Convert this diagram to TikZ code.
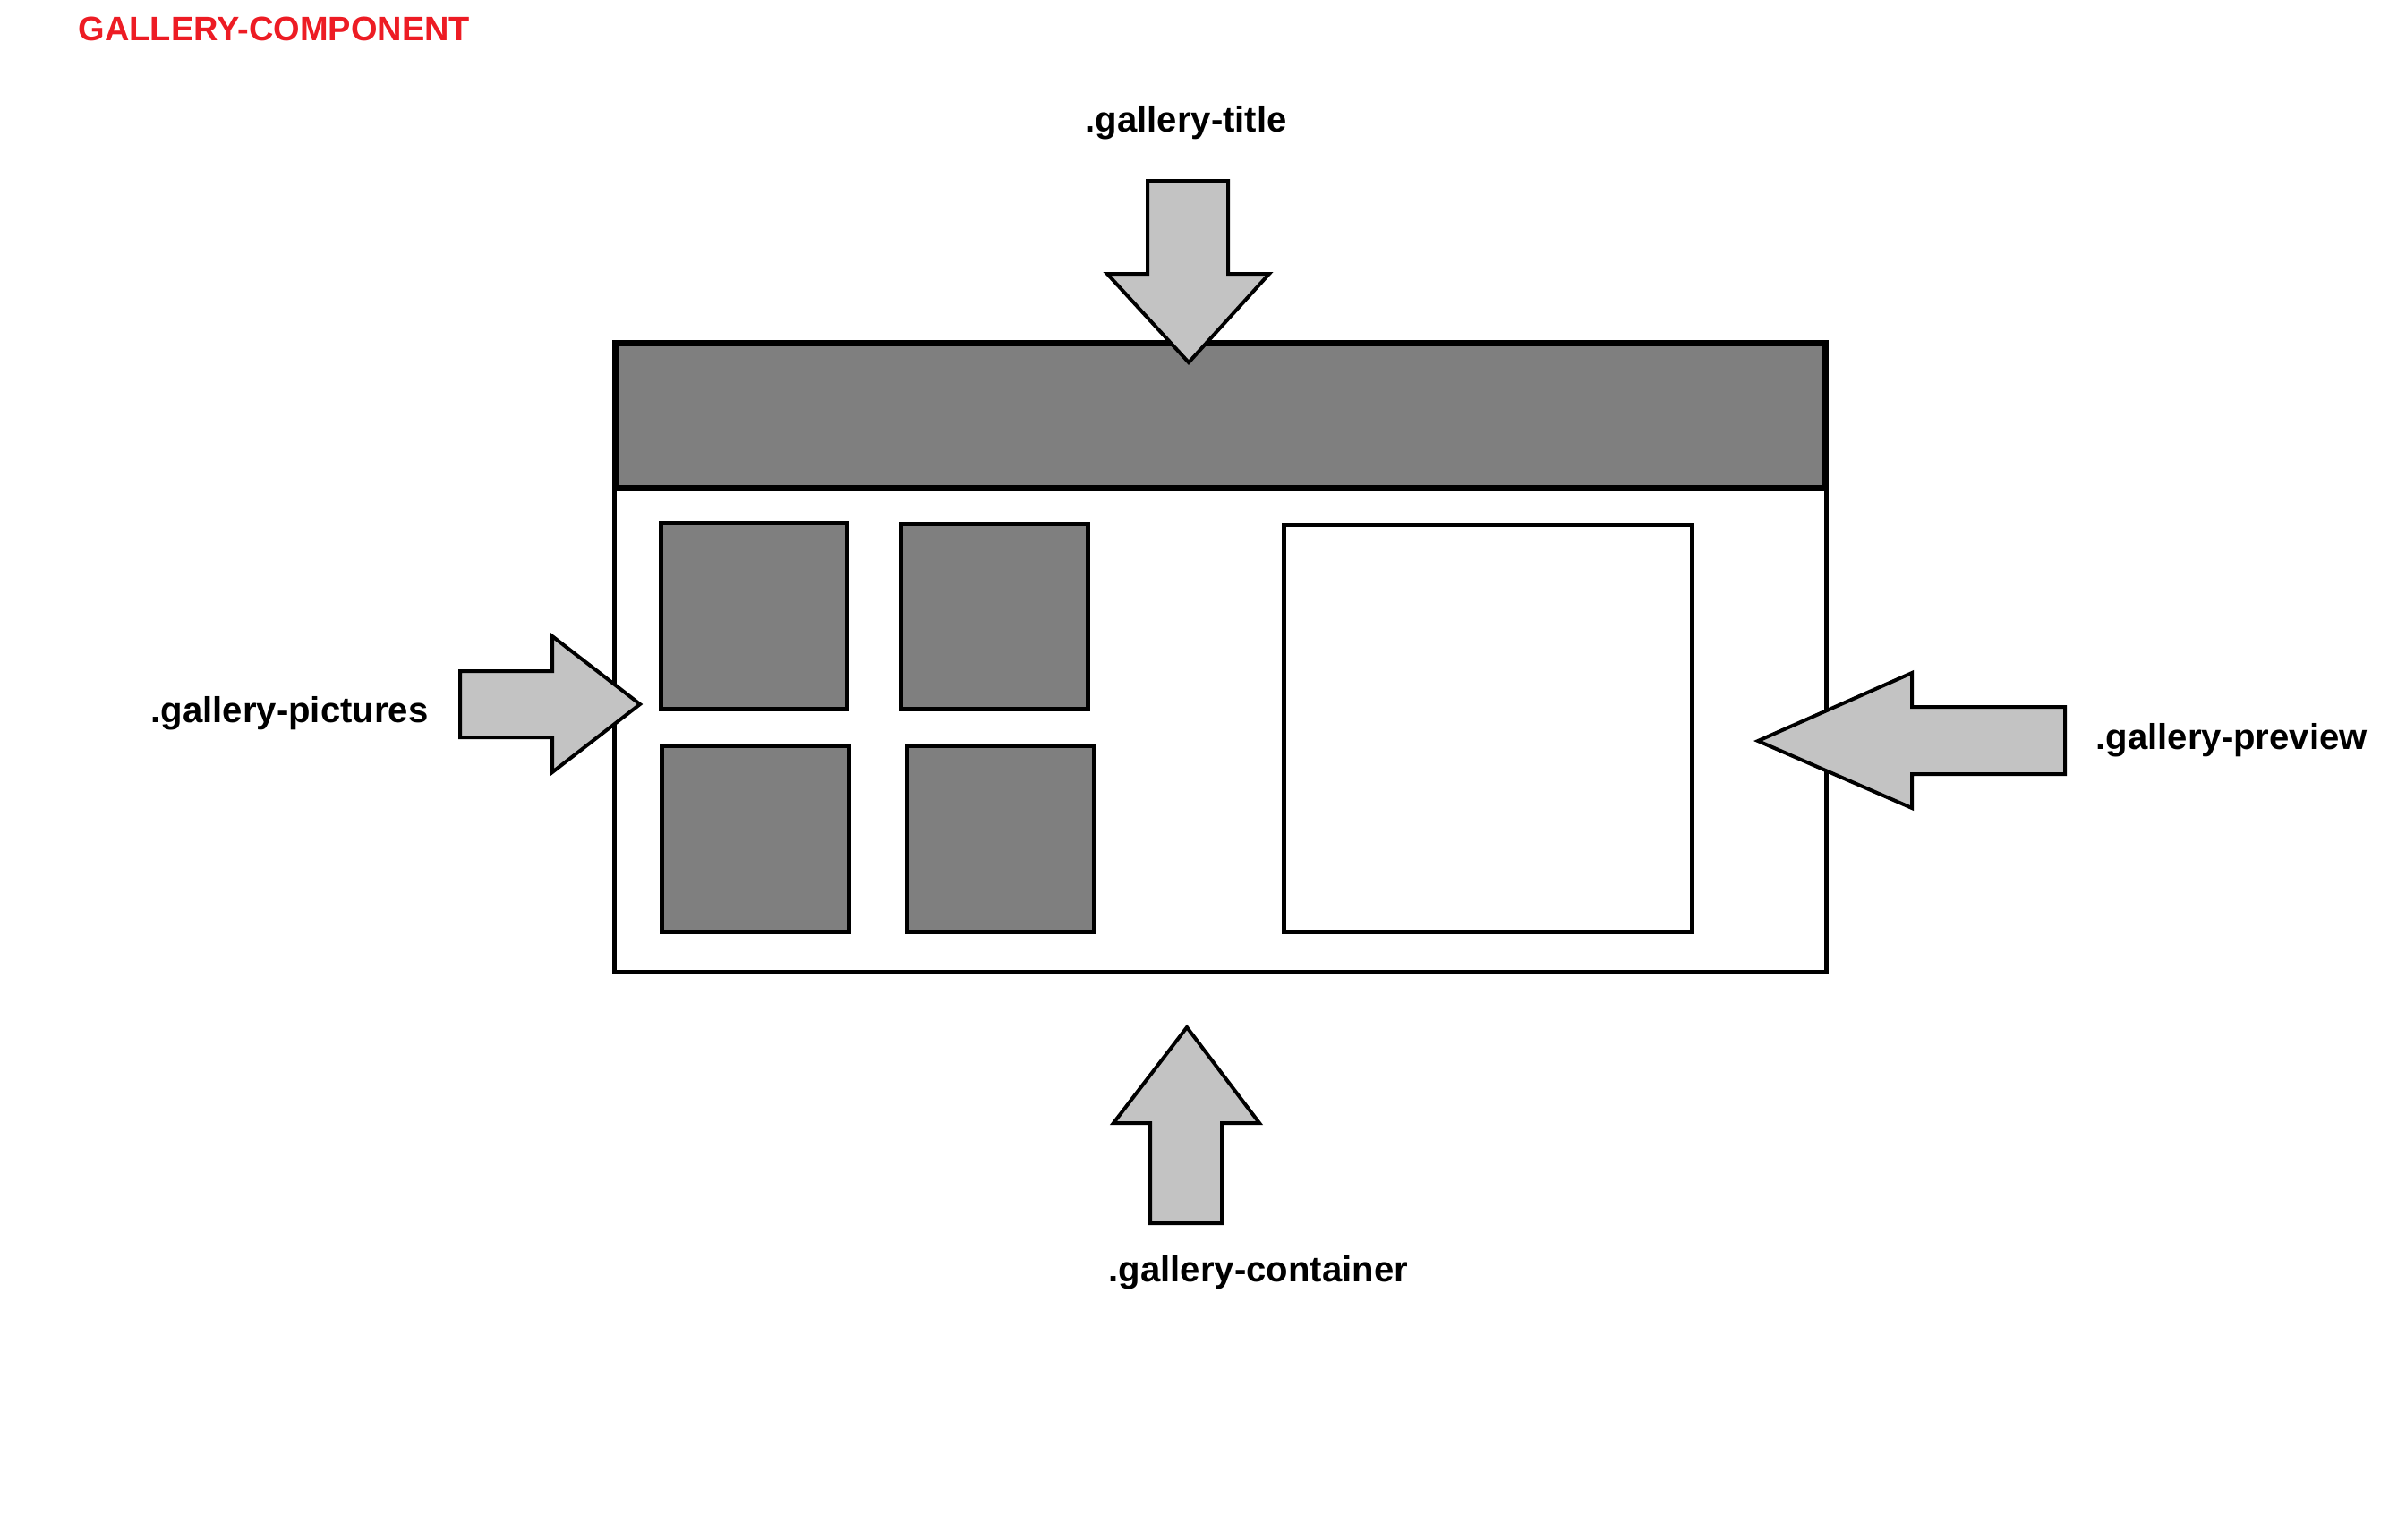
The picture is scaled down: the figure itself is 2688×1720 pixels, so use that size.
\documentclass[tikz,border=0pt]{standalone}
\usepackage{fontspec}
\setmainfont{Liberation Sans}
\definecolor{barfill}{HTML}{7F7F7F}
\definecolor{arrowfill}{HTML}{C3C3C3}
\definecolor{headred}{HTML}{ED1C24}
\begin{document}
\begin{tikzpicture}[x=0.01cm,y=-0.01cm,
  frame/.style={draw=black,line width=1.42pt,line join=miter},
  thumb/.style={frame,fill=barfill},
  bigarrow/.style={draw=black,fill=arrowfill,line width=1.14pt,line join=miter},
  label/.style={anchor=base west,inner sep=0pt,font=\fontsize{11.4pt}{13pt}\selectfont\bfseries},
]
\useasboundingbox (0,0) rectangle (2688,1720);
\fill[white] (0,0) rectangle (2688,1720);

% heading
\node[label,text=headred,font=\fontsize{10.8pt}{13pt}\selectfont\bfseries] (heading) at (87,45) {GALLERY-COMPONENT};

% container with title bar
\draw[frame,fill=white] (686.5,383.5) rectangle (2040.5,1086.5);
\draw[frame,fill=barfill,line width=1.99pt] (687.5,383.5) rectangle (2039.5,545.5);

% picture thumbnails
\draw[thumb] (738.5,584.5) rectangle (946.5,792.5);
\draw[thumb] (1006,585) rectangle (1215,792);
\draw[thumb] (739,833.5) rectangle (948,1041);
\draw[thumb] (1013,833.5) rectangle (1222,1041);

% preview pane
\draw[frame,fill=white] (1434.5,586.5) rectangle (1890.5,1041.5);

% pointer arrows
\draw[bigarrow] (1282,202) -- (1372,202) -- (1372,306) -- (1418,306)
  -- (1328,405) -- (1237,306) -- (1282,306) -- cycle;
\draw[bigarrow] (514,750) -- (617,750) -- (617,711) -- (715,787)
  -- (617,863) -- (617,824) -- (514,824) -- cycle;
\draw[bigarrow] (2307,790) -- (2136,790) -- (2136,752) -- (1964,828)
  -- (2136,903) -- (2136,865) -- (2307,865) -- cycle;
\draw[bigarrow] (1285,1367) -- (1365,1367) -- (1365,1255) -- (1407,1255)
  -- (1326,1148) -- (1244,1255) -- (1285,1255) -- cycle;

% labels
\node[label] (ltitle) at (1212,147) {.gallery-title};
\node[label] (lpictures) at (168,807) {.gallery-pictures};
\node[label] (lpreview) at (2341,837) {.gallery-preview};
\node[label] (lcontainer) at (1238,1432) {.gallery-container};
\end{tikzpicture}
\end{document}
